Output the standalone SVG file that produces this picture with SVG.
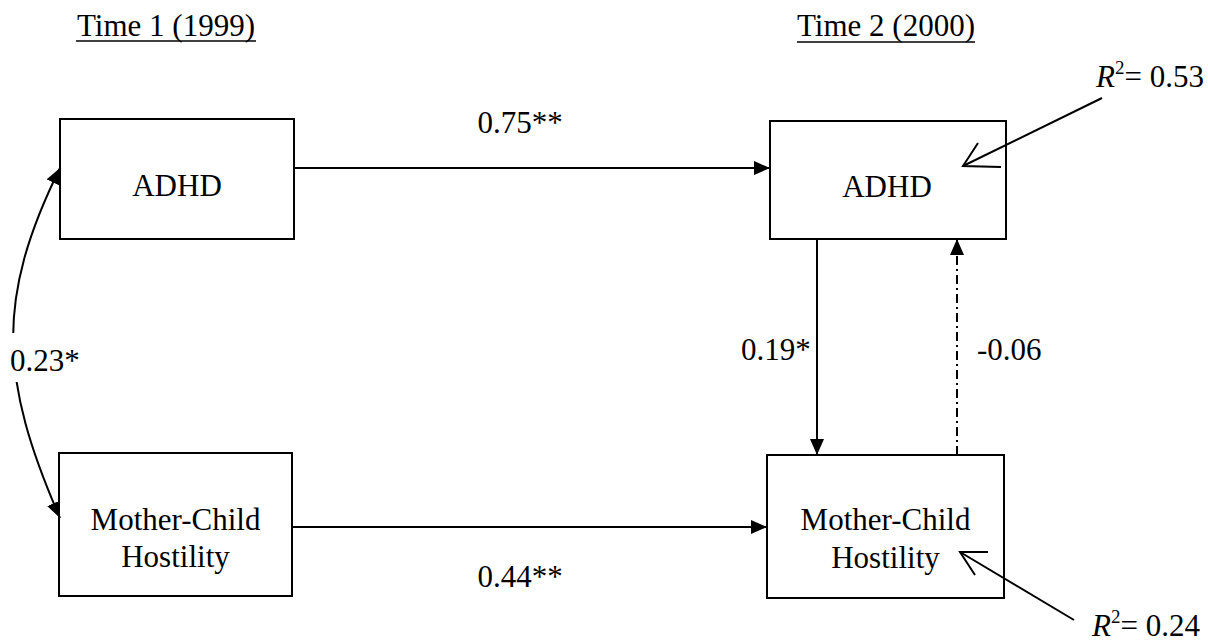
<svg xmlns="http://www.w3.org/2000/svg" width="1208" height="641" viewBox="0 0 1208 641">
<style>
text{font-family:"Liberation Serif","Times New Roman",serif;font-size:31px;fill:#000}
.box{fill:#fff;stroke:#000;stroke-width:2}
.ln{fill:none;stroke:#000;stroke-width:2}
.c{text-anchor:middle}
</style>
<defs>
<marker id="ah" viewBox="0 0 16 14" refX="16" refY="7" markerWidth="16" markerHeight="14" markerUnits="userSpaceOnUse" orient="auto-start-reverse">
<path d="M0,0 L16,7 L0,14 Z" fill="#000"/>
</marker>
</defs>
<rect width="1208" height="641" fill="#fff"/>
<g id="headers">
<text x="166" y="36" class="c">Time 1 (1999)</text>
<line x1="76" y1="41" x2="256" y2="41" stroke="#000" stroke-width="1.5"/>
<text x="886" y="36" class="c">Time 2 (2000)</text>
<line x1="797" y1="42" x2="975" y2="42" stroke="#000" stroke-width="1.5"/>
</g>
<g id="node-adhd1">
<rect class="box" x="60" y="119" width="234" height="120"/>
<text x="177" y="196" class="c">ADHD</text>
</g>
<g id="node-mch1">
<rect class="box" x="59" y="453" width="233" height="143"/>
<text x="175.5" y="530" class="c">Mother-Child</text>
<text x="175.5" y="567" class="c">Hostility</text>
</g>
<g id="node-adhd2">
<rect class="box" x="770" y="121" width="236" height="118"/>
<text x="887" y="197" class="c">ADHD</text>
</g>
<g id="node-mch2">
<rect class="box" x="767" y="455" width="237" height="143"/>
<text x="885.5" y="530" class="c">Mother-Child</text>
<text x="885.5" y="568" class="c">Hostility</text>
</g>
<g id="connectors">
<line class="ln" x1="294" y1="168" x2="770" y2="168" marker-end="url(#ah)"/>
<line class="ln" x1="292" y1="527" x2="767" y2="527" marker-end="url(#ah)"/>
<line class="ln" x1="817" y1="239" x2="817" y2="455" marker-end="url(#ah)"/>
<line class="ln" x1="957" y1="455" x2="957" y2="239" stroke-dasharray="9,4,2,4" marker-end="url(#ah)"/>
<path class="ln" d="M60,518 C0,380 -5,300 60,168" marker-start="url(#ah)" marker-end="url(#ah)"/>
<line class="ln" x1="1102" y1="98" x2="963" y2="166"/>
<polyline class="ln" points="978,143 963,166 1001,167"/>
<line class="ln" x1="1074" y1="620" x2="960" y2="552"/>
<polyline class="ln" points="988,552 960,552 975,575"/>
</g>
<g id="labels">
<text x="520" y="133" class="c">0.75**</text>
<text x="520" y="587" class="c">0.44**</text>
<rect x="6" y="333" width="74" height="49" fill="#fff"/>
<text x="10" y="371">0.23*</text>
<text x="741" y="360">0.19*</text>
<text x="977" y="360">-0.06</text>
<text x="1096" y="87"><tspan font-style="italic">R</tspan><tspan font-size="19" dy="-13">2</tspan><tspan dy="13">= 0.53</tspan></text>
<text x="1092" y="636"><tspan font-style="italic">R</tspan><tspan font-size="19" dy="-13">2</tspan><tspan dy="13">= 0.24</tspan></text>
</g>
</svg>
